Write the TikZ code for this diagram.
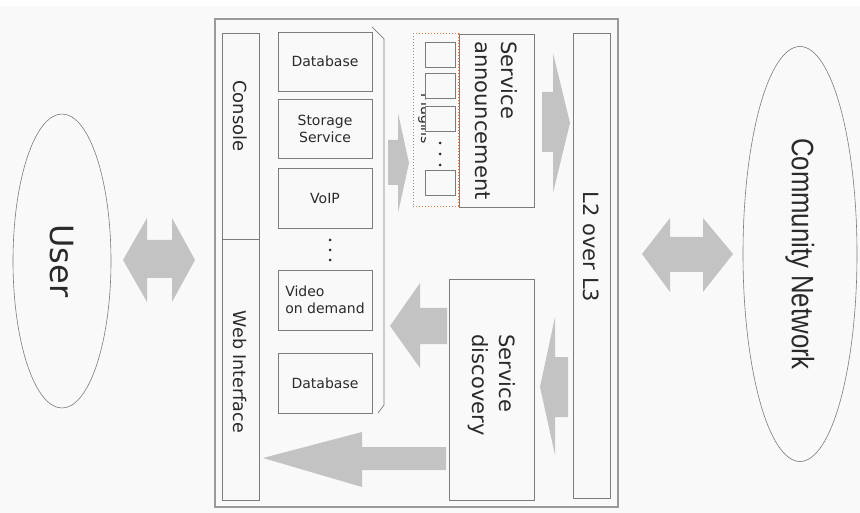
\documentclass[tikz,border=0pt]{standalone}
\usepackage{fontspec}
\setmainfont{DejaVu Sans}
\newfontfamily\cnfont[FakeStretch=0.83]{Liberation Sans}
\usetikzlibrary{shapes.geometric}
\definecolor{bgc}{HTML}{F9F9F9}
\definecolor{linec}{HTML}{7C7C7C}
\definecolor{outerc}{HTML}{9A9A9A}
\definecolor{arrowc}{HTML}{C3C3C3}
\definecolor{textc}{HTML}{2A2A2A}
\definecolor{plugc}{HTML}{E07A40}
\newcommand{\fsz}[1]{\fontsize{#1}{#1}\selectfont}
\begin{document}
\begin{tikzpicture}[x=1pt,y=-1pt,
  box/.style={draw=linec, line width=0.7pt, inner sep=0pt, fill=bgc},
  boxtext/.style={text=textc, inner sep=0pt},
  vtext/.style={text=textc, inner sep=0pt, rotate=-90, align=left},
  fatarrow/.style={fill=arrowc, draw=none},
  dotc/.style={fill=textc, draw=none}]
\useasboundingbox (0,0) rectangle (860,513);
\fill[white] (0,0) rectangle (860,513);
\fill[bgc] (0,6) rectangle (860,513);

% main system frame
\node[draw=outerc, line width=1.2pt, minimum width=403pt, minimum height=488pt, inner sep=0pt] (frame) at (416.5,263) {};

% user interface column
\node[box, minimum width=37pt, minimum height=206pt] (console) at (240.5,136) {};
\node[box, minimum width=37pt, minimum height=261pt] (web) at (240.5,369.5) {};
\node[vtext, font=\fsz{18}] (consoletxt) at (240.5,116) {Console};
\node[vtext, font=\fsz{17.5}] (webtxt) at (240.5,372) {Web Interface};

% services
\node[box, minimum width=94pt, minimum height=59pt] (db1) at (325,61.5) {};
\node[boxtext, font=\fsz{14}] at (db1) {Database};
\node[box, minimum width=94pt, minimum height=59pt] (storage) at (325,128.5) {};
\node[boxtext, font=\fontsize{14}{17}\selectfont, align=center] at (storage) {Storage\\Service};
\node[box, minimum width=94pt, minimum height=60pt] (voip) at (325,198) {};
\node[boxtext, font=\fsz{14}] at (voip) {VoIP};
\node[box, minimum width=94pt, minimum height=60pt] (vod) at (325,300) {};
\node[boxtext, font=\fontsize{14}{17}\selectfont, align=left] at (vod) {Video\\on demand};
\node[box, minimum width=94pt, minimum height=60pt] (db2) at (325,383) {};
\node[boxtext, font=\fsz{14}] at (db2) {Database};
\foreach \yy in {240,250,260} \fill[dotc] (330,\yy) circle (1.5);

% bracket grouping the services
\coordinate (brA) at (372,27);
\coordinate (brB) at (384,39);
\coordinate (brC) at (384,405);
\coordinate (brD) at (378,413);
\draw[linec, line width=0.7pt] (brA) -- (brB) -- (brC) -- (brD);

% plugins area
\begin{scope}
  \clip (413,34) rectangle (425,207);
  \node[text=textc, inner sep=0pt, rotate=-90, anchor=base, font=\fsz{14}] (plugtxt) at (421,119) {Plugins};
\end{scope}
\node[draw=plugc, dotted, line width=1pt, minimum width=46pt, minimum height=173pt, inner sep=0pt] (plugins) at (436,120.5) {};
\foreach \yy/\nm in {54.5/p1,85.5/p2,118.5/p3,182.5/p4}
  \node[box, minimum width=30pt, minimum height=25pt] (\nm) at (440,\yy) {};
\foreach \yy in {143,154,165} \fill[dotc] (440,\yy) circle (1.5);

% service announcement
\node[box, minimum width=75pt, minimum height=173pt] (announce) at (496.5,120.5) {};
\draw[plugc, dotted, line width=1pt] (announce.north west) -- (announce.south west);
\node[vtext, font=\fontsize{21}{26}\selectfont] at (announce) {Service\\announcement};

% service discovery
\node[box, minimum width=85pt, minimum height=221pt] (discovery) at (491.5,389.5) {};
\node[vtext, font=\fontsize{21}{27}\selectfont] at (491.5,385) {Service\\discovery};

% L2 over L3
\node[box, minimum width=37pt, minimum height=465pt] (ltwo) at (591.5,265.5) {};
\node[vtext, font=\fsz{21}] at (591.5,247) {L2 over L3};

% outer actors
\node[draw=linec, line width=0.6pt, ellipse, rotate=-90, minimum width=294pt, minimum height=98pt, inner sep=0pt, font=\fsz{32}, text=textc] (user) at (62,261) {User};
\node[draw=linec, line width=0.6pt, ellipse, rotate=-90, minimum width=415pt, minimum height=114pt, inner sep=0pt, font={\cnfont\fsz{31}}, text=textc] (community) at (800,254) {Community Network};

% block arrows
% services -> plugins
\fill[fatarrow] (388,140) -- (398,140) -- (398,113) -- (409,163) -- (398,213) -- (398,185) -- (388,185) -- cycle;
% announcement -> L2 over L3
\fill[fatarrow] (542,92) -- (553,92) -- (553,53) -- (570,123) -- (553,193) -- (553,152) -- (542,152) -- cycle;
% L2 over L3 -> discovery
\fill[fatarrow] (568,357) -- (555,357) -- (555,317) -- (540,387) -- (555,455) -- (555,417) -- (568,417) -- cycle;
% discovery -> video on demand
\fill[fatarrow] (447,308) -- (420,308) -- (420,283) -- (390,326) -- (420,368) -- (420,344) -- (447,344) -- cycle;
% discovery -> web interface
\fill[fatarrow] (446,447) -- (362,447) -- (362,432) -- (263,458) -- (362,487) -- (362,470) -- (446,470) -- cycle;
% user <-> system
\fill[fatarrow] (123,260) -- (147,218) -- (147,240) -- (172,240) -- (172,218) -- (195,260) -- (172,302) -- (172,278) -- (147,278) -- (147,302) -- cycle;
% system <-> community network
\fill[fatarrow] (642,254) -- (670,218) -- (670,237) -- (703,237) -- (703,218) -- (733,254) -- (703,292) -- (703,272) -- (670,272) -- (670,292) -- cycle;
\end{tikzpicture}
\end{document}
